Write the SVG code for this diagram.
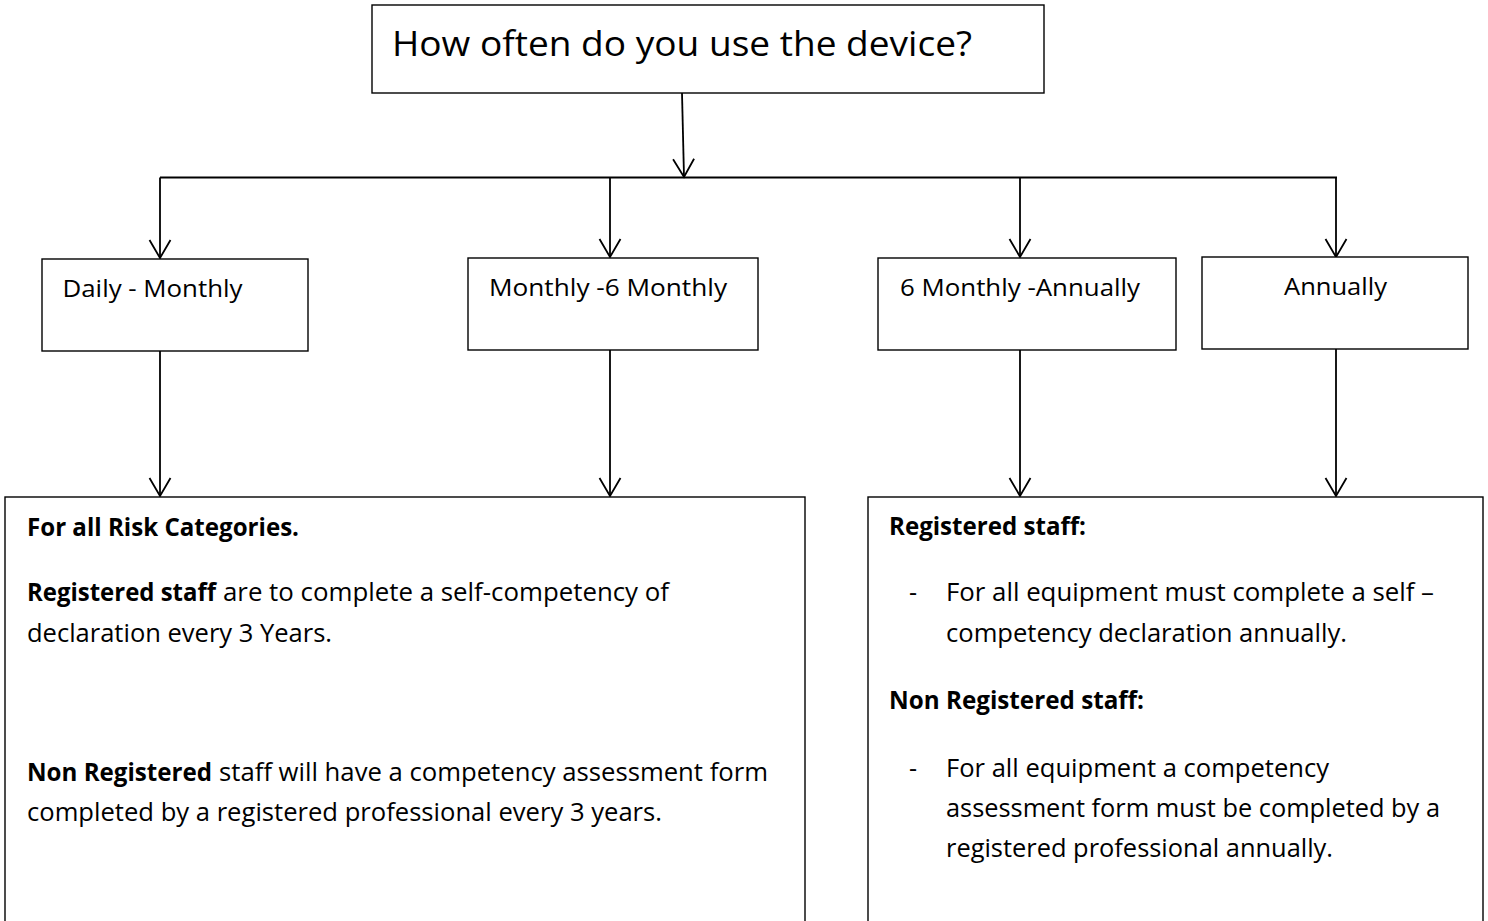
<svg xmlns="http://www.w3.org/2000/svg" width="1488" height="921" viewBox="0 0 1488 921">
  <style>
    .box { fill: #ffffff; stroke: #000000; stroke-width: 1.4; }
    .conn { fill: none; stroke: #000000; stroke-width: 1.8; }
    .t { font-family: "Open Sans", "Noto Sans", "Liberation Sans", sans-serif; fill: #000000; }
    .title { font-size: 35px; }
    .label { font-size: 24.5px; }
    .body { font-size: 25px; }
    .b { font-weight: bold; }
  </style>
  <defs>
    <marker id="vee" viewBox="-20 -12 22 24" refX="0" refY="0" markerWidth="22" markerHeight="24" markerUnits="userSpaceOnUse" orient="auto">
      <path d="M -18 -10.5 L 0 0 L -18 10.5" fill="none" stroke="#000000" stroke-width="1.8"/>
    </marker>
  </defs>
  <rect width="1488" height="921" fill="#ffffff"/>

  <!-- connectors -->
  <g id="connectors">
    <line class="conn" x1="682" y1="93" x2="684" y2="177" marker-end="url(#vee)"/>
    <line class="conn" x1="160" y1="177.5" x2="1337" y2="177.5"/>
    <line class="conn" x1="160" y1="177.5" x2="160" y2="258" marker-end="url(#vee)"/>
    <line class="conn" x1="610" y1="177.5" x2="610" y2="257" marker-end="url(#vee)"/>
    <line class="conn" x1="1020" y1="177.5" x2="1020" y2="257" marker-end="url(#vee)"/>
    <line class="conn" x1="1336" y1="177.5" x2="1336" y2="257" marker-end="url(#vee)"/>
    <line class="conn" x1="160" y1="351" x2="160" y2="496" marker-end="url(#vee)"/>
    <line class="conn" x1="610" y1="350" x2="610" y2="496" marker-end="url(#vee)"/>
    <line class="conn" x1="1020" y1="350" x2="1020" y2="496" marker-end="url(#vee)"/>
    <line class="conn" x1="1336" y1="349" x2="1336" y2="496" marker-end="url(#vee)"/>
  </g>

  <!-- question -->
  <g id="question">
    <rect class="box" x="372" y="5" width="672" height="88"/>
    <text class="t title" x="392" y="56" textLength="580" lengthAdjust="spacingAndGlyphs">How often do you use the device?</text>
  </g>

  <!-- frequency options -->
  <g id="daily-monthly">
    <rect class="box" x="42" y="259" width="266" height="92"/>
    <text class="t label" x="62.5" y="297" textLength="180" lengthAdjust="spacingAndGlyphs">Daily - Monthly</text>
  </g>
  <g id="monthly-6monthly">
    <rect class="box" x="468" y="258" width="290" height="92"/>
    <text class="t label" x="489" y="296" textLength="238" lengthAdjust="spacingAndGlyphs">Monthly -6 Monthly</text>
  </g>
  <g id="6monthly-annually">
    <rect class="box" x="878" y="258" width="298" height="92"/>
    <text class="t label" x="900" y="296" textLength="240" lengthAdjust="spacingAndGlyphs">6 Monthly -Annually</text>
  </g>
  <g id="annually">
    <rect class="box" x="1202" y="257" width="266" height="92"/>
    <text class="t label" x="1284" y="295" textLength="103" lengthAdjust="spacingAndGlyphs">Annually</text>
  </g>

  <!-- outcome: frequent use -->
  <g id="frequent-use">
    <rect class="box" x="5" y="497" width="800" height="440"/>
    <text class="t body b" x="27" y="536" textLength="272" lengthAdjust="spacingAndGlyphs">For all Risk Categories.</text>
    <text class="t body b" x="27" y="601" textLength="189" lengthAdjust="spacingAndGlyphs">Registered staff</text>
    <text class="t body" x="223" y="601" textLength="446" lengthAdjust="spacingAndGlyphs">are to complete a self-competency of</text>
    <text class="t body" x="27" y="642" textLength="305" lengthAdjust="spacingAndGlyphs">declaration every 3 Years.</text>
    <text class="t body b" x="27" y="781" textLength="185" lengthAdjust="spacingAndGlyphs">Non Registered</text>
    <text class="t body" x="219" y="781" textLength="549" lengthAdjust="spacingAndGlyphs">staff will have a competency assessment form</text>
    <text class="t body" x="27" y="821" textLength="635" lengthAdjust="spacingAndGlyphs">completed by a registered professional every 3 years.</text>
  </g>

  <!-- outcome: infrequent use -->
  <g id="infrequent-use">
    <rect class="box" x="868" y="497" width="615" height="440"/>
    <text class="t body b" x="889" y="535" textLength="197" lengthAdjust="spacingAndGlyphs">Registered staff:</text>
    <text class="t body" x="909" y="601">-</text>
    <text class="t body" x="946" y="601" textLength="488" lengthAdjust="spacingAndGlyphs">For all equipment must complete a self –</text>
    <text class="t body" x="946" y="642" textLength="401" lengthAdjust="spacingAndGlyphs">competency declaration annually.</text>
    <text class="t body b" x="889" y="709" textLength="255" lengthAdjust="spacingAndGlyphs">Non Registered staff:</text>
    <text class="t body" x="909" y="777">-</text>
    <text class="t body" x="946" y="777" textLength="383" lengthAdjust="spacingAndGlyphs">For all equipment a competency</text>
    <text class="t body" x="946" y="817" textLength="494" lengthAdjust="spacingAndGlyphs">assessment form must be completed by a</text>
    <text class="t body" x="946" y="857" textLength="387" lengthAdjust="spacingAndGlyphs">registered professional annually.</text>
  </g>
</svg>
